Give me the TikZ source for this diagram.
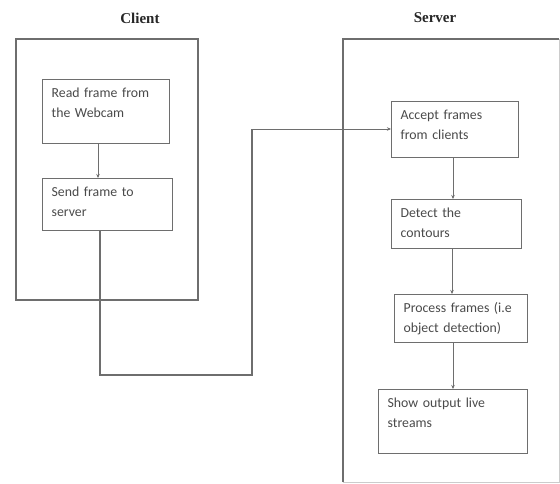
\documentclass[tikz,border=0pt]{standalone}
\usepackage{fontspec}
\setmainfont{Liberation Serif}
\newfontfamily\boxfont{Carlito}
\usetikzlibrary{arrows.meta}
\definecolor{linegray}{HTML}{6E6E6E}
\definecolor{textgray}{HTML}{4A4A4A}
\begin{document}
\begin{tikzpicture}[x=1pt,y=-1pt,
  container/.style={draw=linegray,line width=1.6pt},
  stepbox/.style={draw=linegray,line width=1.3pt,anchor=north west,
    inner xsep=9pt,inner ysep=0pt,align=left,text=textgray,
    font=\boxfont\fontsize{13.8}{20}\selectfont,text height=18pt},
  flow/.style={draw=linegray,line width=0.9pt,-{Stealth[length=4pt,width=3.5pt]}},
  title/.style={font=\bfseries\fontsize{15}{18}\selectfont,text=black!85}]
\useasboundingbox (0,0) rectangle (560,484);
\fill[white] (0,0) rectangle (560,484);
% titles
\node[title] (tclient) at (140,18) {Client};
\node[title] (tserver) at (435,18) {Server};
% containers
\draw[container] (16,39) rectangle (198,300);
\draw[draw=black!20,line width=1pt] (559,39) -- (559,482) -- (343,482);
\draw[container] (343,482) -- (343,39) -- (559,39);
% client steps
\node[stepbox,text width=109pt,text depth=46pt] (read) at (42,79) {Read frame from\\the Webcam};
\node[stepbox,text width=112pt,text depth=34pt] (send) at (42,178) {Send frame to\\server};
% server steps
\node[stepbox,text width=109pt,text depth=38pt] (accept) at (391,101) {Accept frames\\from clients};
\node[stepbox,text width=112pt,text depth=31pt] (detect) at (391,199) {Detect the\\contours};
\node[stepbox,text width=115pt,text depth=30pt] (process) at (394,294) {Process frames (i.e\\object detection)};
\node[stepbox,text width=131pt,text depth=46pt] (show) at (378,389) {Show output live\\streams};
% connectors
\coordinate (c1) at (100,375);
\coordinate (c2) at (252,375);
\coordinate (c3) at (252,129);
\draw[flow] (read.south -| 98,0) -- (send.north -| 98,0);
\draw[draw=linegray,line width=1.1pt] (send.south -| c1) -- (c1) -- (c2) -- (c3);
\draw[flow] (c3) -- (c3 -| accept.west);
\draw[flow] (accept.south -| 453,0) -- (detect.north -| 453,0);
\draw[flow] (detect.south -| 452,0) -- (process.north -| 452,0);
\draw[flow] (process.south -| 453,0) -- (show.north -| 453,0);
\end{tikzpicture}
\end{document}
